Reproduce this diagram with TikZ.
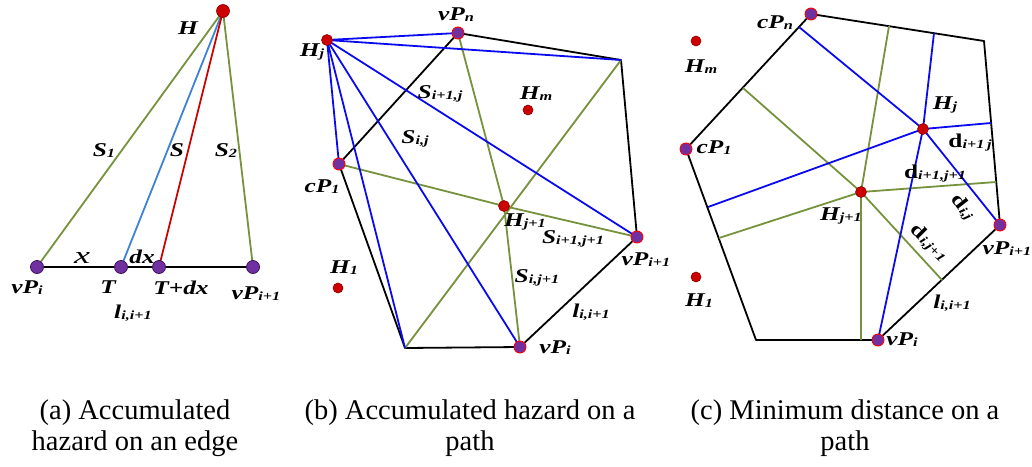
\documentclass[tikz,border=0pt]{standalone}
\usepackage{fontspec}
\setmainfont{Liberation Serif}[BoldItalicFont={Liberation Serif Bold Italic},BoldFont={Liberation Serif Bold},ItalicFont={Liberation Serif Italic}]
\usepackage{graphicx}
\definecolor{og}{RGB}{118,146,60}
\definecolor{bl}{RGB}{10,10,240}
\definecolor{lb}{RGB}{60,130,215}
\definecolor{rd}{RGB}{205,0,0}
\definecolor{pu}{RGB}{112,48,160}
\definecolor{dk}{RGB}{60,20,90}
\newcommand\lbl[2]{\scalebox{1.3}[1]{\bfseries\itshape #1\raisebox{-1pt}{\fontsize{12.5}{12.5}\selectfont #2}}}
\newcommand\dlbl[1]{\scalebox{1.3}[1]{\bfseries d\raisebox{-1pt}{\fontsize{12.5}{12.5}\selectfont\itshape #1}}}
\begin{document}
\begin{tikzpicture}[x=1pt,y=-1pt,
  edge/.style={line width=1.8pt,line join=round},
  blk/.style={edge,black},
  grn/.style={edge,og},
  blu/.style={edge,bl},
  hz/.style={circle,inner sep=0,minimum size=11pt,fill=rd,draw=rd!70!black,line width=0.6pt},
  ptb/.style={circle,inner sep=0,minimum size=12pt,fill=pu,draw=red,line width=0.9pt},
  pta/.style={circle,inner sep=0,minimum size=13pt,fill=pu,draw=dk,line width=0.8pt},
  txt/.style={inner sep=0,font=\fontsize{19.5}{19.5}\selectfont},
  captxt/.style={inner sep=0,align=center,font=\fontsize{28.5}{31}\selectfont}]
\useasboundingbox (0,0) rectangle (1032,466);
% ---------------- panel (a)
\coordinate (aH) at (223,11);
\coordinate (aV1) at (37,267);
\coordinate (aT) at (121,267);
\coordinate (aTd) at (159,267);
\coordinate (aV2) at (253,267);
\draw[blk] (aV1) -- (aV2);
\draw[grn] (aV1) -- (aH);
\draw[grn] (aV2) -- (aH);
\draw[edge,lb] (aT) -- (aH);
\draw[edge,rd] (aTd) -- (aH);
\node[hz,minimum size=13pt] (aHd) at (aH) {};
\node[pta] (aV1d) at (aV1) {};
\node[pta] (aTdd) at (aT) {};
\node[pta] (aTdxd) at (aTd) {};
\node[pta] (aV2d) at (aV2) {};
\node[txt] (laH) at (188,29) {\lbl{H}{}};
\node[txt] (laS1) at (104,151) {\lbl{S}{1}};
\node[txt] (laS) at (177,151) {\lbl{S}{}};
\node[txt] (laS2) at (226,151) {\lbl{S}{2}};
\node[txt] (lax) at (82,258) {\scalebox{1.5}[1]{\fontsize{24}{24}\selectfont\itshape x}};
\node[txt] (ladx) at (142,257) {\lbl{dx}{}};
\node[txt] (laV1) at (27,288) {\lbl{vP}{i}};
\node[txt] (laT) at (108,288) {\lbl{T}{}};
\node[txt] (laTdx) at (181,288) {\lbl{T+dx}{}};
\node[txt] (laV2) at (256,294) {\lbl{vP}{i+1}};
\node[txt] (lal) at (133,313) {\lbl{l}{i,i+1}};
% ---------------- panel (b)
\coordinate (bHj) at (327,40);
\coordinate (bVn) at (458,33);
\coordinate (bTR) at (621,60);
\coordinate (bC1) at (339,164);
\coordinate (bV2) at (637,237);
\coordinate (bV1) at (520,347);
\coordinate (bBL) at (405,348);
\coordinate (bHj1) at (504,206);
\coordinate (bHm) at (528,110);
\coordinate (bH1) at (338,288);
\draw[blk] (bC1) -- (bVn) -- (bTR) -- (bV2) -- (bV1) -- (bBL) -- cycle;
\draw[grn] (bVn) -- (bHj1) -- (bV1);
\draw[grn] (bC1) -- (bHj1) -- (bV2);
\draw[grn] (bBL) -- (bTR);
\draw[blu] (bHj) -- (bVn);
\draw[blu] (bHj) -- (bTR);
\draw[blu] (bHj) -- (bC1);
\draw[blu] (bHj) -- (bBL);
\draw[blu] (bHj) -- (bV1);
\draw[blu] (bHj) -- (bV2);
\node[hz] (bHjd) at (bHj) {};
\node[hz] (bHj1d) at (bHj1) {};
\node[hz,minimum size=10pt] (bHmd) at (bHm) {};
\node[hz,minimum size=10pt] (bH1d) at (bH1) {};
\node[ptb] (bVnd) at (bVn) {};
\node[ptb] (bC1d) at (bC1) {};
\node[ptb] (bV2d) at (bV2) {};
\node[ptb] (bV1d) at (bV1) {};
\node[txt] (lbVn) at (456,15) {\lbl{vP}{n}};
\node[txt] (lbHj) at (312,52) {\lbl{H}{j}};
\node[txt] (lbS1) at (440,94) {\lbl{S}{i+1,j}};
\node[txt] (lbHm) at (536,94) {\lbl{H}{m}};
\node[txt] (lbS2) at (415,139) {\lbl{S}{i,j}};
\node[txt] (lbC1) at (322,187) {\lbl{cP}{1}};
\node[txt] (lbHj1) at (525,222) {\lbl{H}{j+1}};
\node[txt] (lbS3) at (573,239) {\lbl{S}{i+1,j+1}};
\node[txt] (lbV2) at (646,260) {\lbl{vP}{i+1}};
\node[txt] (lbH1) at (344,268) {\lbl{H}{1}};
\node[txt] (lbS4) at (537,278) {\lbl{S}{i,j+1}};
\node[txt] (lbl) at (591,312) {\lbl{l}{i,i+1}};
\node[txt] (lbV1) at (555,348) {\lbl{vP}{i}};
% ---------------- panel (c)
\coordinate (cCn) at (811,14);
\coordinate (cTR) at (984,41);
\coordinate (cV2) at (1000,225);
\coordinate (cV1) at (878,340);
\coordinate (cBL) at (756,340);
\coordinate (cC1) at (686,149);
\coordinate (cHj) at (923,129);
\coordinate (cHj1) at (861,192);
\coordinate (cHm) at (696,41);
\coordinate (cH1) at (696,277);
\coordinate (cP1) at (799,27);
\coordinate (cP2) at (934,33);
\coordinate (cP3) at (708,207);
\coordinate (cP4) at (991,123);
\coordinate (cG1) at (743,88);
\coordinate (cG2) at (942,280);
\coordinate (cG3) at (889,26);
\coordinate (cG4) at (861,340);
\coordinate (cG5) at (719,238);
\coordinate (cG6) at (996,182);
\draw[blk] (cC1) -- (cCn) -- (cTR) -- (cV2) -- (cV1) -- (cBL) -- cycle;
\draw[grn] (cG1) -- (cHj1) -- (cG2);
\draw[grn] (cG3) -- (cHj1) -- (cG4);
\draw[grn] (cG5) -- (cHj1) -- (cG6);
\draw[blu] (cP1) -- (cHj) -- (cV2);
\draw[blu] (cP2) -- (cHj) -- (cV1);
\draw[blu] (cP3) -- (cHj) -- (cP4);
\node[hz] (cHjd) at (cHj) {};
\node[hz] (cHj1d) at (cHj1) {};
\node[hz,minimum size=10pt] (cHmd) at (cHm) {};
\node[hz,minimum size=10pt] (cH1d) at (cH1) {};
\node[ptb] (cCnd) at (cCn) {};
\node[ptb] (cC1d) at (cC1) {};
\node[ptb] (cV2d) at (cV2) {};
\node[ptb] (cV1d) at (cV1) {};
\node[txt] (lcCn) at (775,23) {\lbl{cP}{n}};
\node[txt] (lcHm) at (701,67) {\lbl{H}{m}};
\node[txt] (lcHj) at (945,105) {\lbl{H}{j}};
\node[txt] (lcC1) at (714,148) {\lbl{cP}{1}};
\node[txt] (lcd1) at (970,143) {\dlbl{i+1\,j}};
\node[txt] (lcd2) at (935,174) {\dlbl{i+1,j+1}};
\node[txt,rotate=-52] (lcd3) at (963,207) {\dlbl{i,j}};
\node[txt,rotate=-45] (lcd4) at (929,243) {\dlbl{i,j+1}};
\node[txt] (lcHj1) at (841,216) {\lbl{H}{j+1}};
\node[txt] (lcV2) at (1007,249) {\lbl{vP}{i+1}};
\node[txt] (lcH1) at (699,301) {\lbl{H}{1}};
\node[txt] (lcl) at (952,303) {\lbl{l}{i,i+1}};
\node[txt] (lcV1) at (902,340) {\lbl{vP}{i}};
% ---------------- captions
\node[captxt] (capa) at (135,428) {(a) Accumulated\\hazard on an edge};
\node[captxt] (capb) at (470,428) {(b) Accumulated hazard on a\\path};
\node[captxt] (capc) at (845,428) {(c) Minimum distance on a\\path};
\end{tikzpicture}
\end{document}
